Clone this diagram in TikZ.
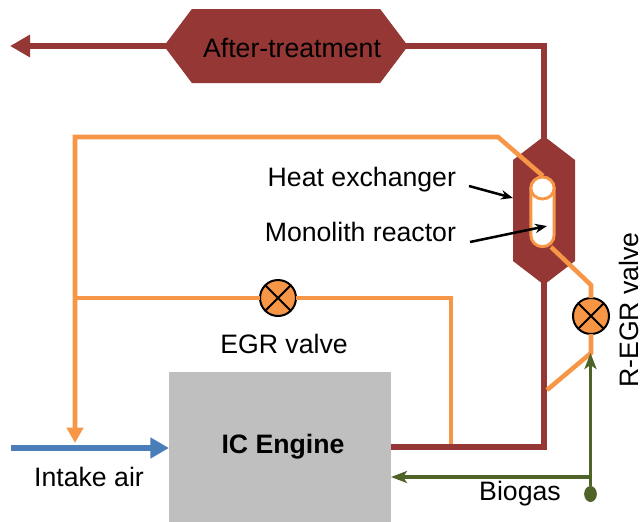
\documentclass[tikz,border=0pt]{standalone}
\usepackage{fontspec}
\setmainfont{Liberation Sans}
\usepackage{xcolor}
\usetikzlibrary{
  arrows.meta,
  shapes.geometric,
  shapes.symbols}

\definecolor{exhaust}{HTML}{953735}
\definecolor{egr}{HTML}{F79646}
\definecolor{air}{HTML}{4A7EBB}
\definecolor{biogas}{HTML}{4F6228}
\definecolor{engine}{HTML}{BFBFBF}

\tikzset{
  every node/.style={outer sep=0pt},
  label text/.style={font=\fontsize{20}{24}\selectfont,inner sep=0pt},
  exhaust line/.style={draw=exhaust,line width=5.2pt,shorten <=-3pt},
  egr line/.style={draw=egr,line width=3.4pt},
  biogas line/.style={draw=biogas,line width=2.3pt},
  hex box/.style={
    shape=signal,
    fill=exhaust,
    inner sep=0pt},
  valve/.style={
    circle,
    draw=black,
    fill=egr,
    line width=1.5pt,
    inner sep=0pt,
    minimum size=27pt,
    path picture={
      \draw[line width=1.5pt]
      (path picture bounding box.north west) -- (path picture bounding box.south east)
      (path picture bounding box.north east) -- (path picture bounding box.south west);
    }},
}

\begin{document}
\begin{tikzpicture}[x=0.75pt,y=-0.75pt]
\useasboundingbox (0,0) rectangle (644,522);

\node[fill=engine,minimum width=166.5pt,minimum height=112.5pt,inner sep=0pt] (engine) at (280,447) {};
\node[font=\fontsize{20}{24}\selectfont\bfseries,inner sep=0pt] at (283,447) {IC Engine};

\node[hex box,signal to=east and west,signal pointer angle=106,
  minimum width=183pt,minimum height=55.5pt] (aftertreat) at (286,46) {};
\node[label text] at (292,48) {After-treatment};
\node[hex box,signal to=north and south,signal pointer angle=105,
  minimum width=46.5pt,minimum height=75.75pt] (reactor) at (544,210.5) {};

% exhaust
\coordinate (outlet) at (10,46);
\coordinate (topcorner) at (544,46);
\coordinate (enginecorner) at (544,447);
\coordinate (engineout) at (391,447);
\draw[exhaust line,-{Triangle[length=15pt,width=16pt,sep=0pt]}] (aftertreat.west) -- (outlet);
\draw[exhaust line,line join=miter,shorten >=-3pt] (aftertreat.east) -- (topcorner) -- (reactor.north);
\draw[exhaust line,line join=miter] (reactor.south) -- (enginecorner) -- (engineout);

% intake
\coordinate (airin) at (11,448);
\draw[draw=air,line width=5.2pt,-{Triangle[length=14pt,width=15pt,sep=0pt]}] (airin) -- (engine.west |- airin);

% valves
\node[valve] (egrvalve) at (278,298) {};
\node[valve] (regrvalve) at (591,316) {};

% egr lines
\coordinate (loopleft) at (75,137);
\coordinate (looptop) at (498,137);
\coordinate (reactortop) at (543,176);
\coordinate (intake) at (75,443);
\coordinate (egrleft) at (75,298);
\coordinate (egrright) at (451,298);
\coordinate (egrdown) at (451,444);
\coordinate (reactorout) at (551,247);
\coordinate (regrbend) at (591,285);
\coordinate (regrjoin) at (591,353);
\coordinate (regrback) at (547,390);
\draw[egr line,line join=miter,-{Triangle[length=11.5pt,width=12pt,sep=0pt]}] (reactortop) -- (looptop) -- (loopleft)
  -- (intake);
\draw[egr line] (egrleft) -- (egrvalve);
\draw[egr line] (egrvalve) -- (egrright) -- (egrdown);
\draw[egr line] (reactorout) -- (regrbend) -- (regrvalve);
\draw[egr line] (regrvalve) -- (regrjoin) -- (regrback);

% monolith
\node[draw=egr,fill=white,line width=2.2pt,rounded corners=8.7pt,inner sep=0pt,
  minimum width=17.5pt,minimum height=52pt] (monolith) at (542.5,212) {};
\node[ellipse,draw=egr,fill=white,line width=2.2pt,inner sep=0pt,
  minimum width=17.5pt,minimum height=16.5pt] (exchanger) at (542.5,188) {};

% biogas
\node[ellipse,fill=biogas,minimum width=9.5pt,minimum height=12pt,inner sep=0pt] (source) at (590.5,494) {};
\coordinate (split) at (590.5,477);
\coordinate (regrin) at (590.5,353);
\draw[biogas line,-{Stealth[length=12pt,width=9pt,inset=3pt]}] (source) -- (regrin);
\draw[biogas line,-{Stealth[length=12pt,width=9pt,inset=3pt]}] (split) -- (engine.east |- split);

% labels
\node[label text,anchor=east] (heatlabel) at (456,180) {Heat exchanger};
\node[label text,anchor=east] (monolithlabel) at (456,232) {Monolith reactor};
\node[label text] (egrlabel) at (284,344) {EGR valve};
\node[label text] (airlabel) at (89,477) {Intake air};
\node[label text] (biogaslabel) at (520,494) {Biogas};
\node[label text,rotate=90] (regrlabel) at (629,310) {R-EGR valve};

\coordinate (heatstart) at (469,186);
\coordinate (heattip) at (513,198);
\coordinate (monolithstart) at (470,242);
\coordinate (monolithtip) at (547,226);
\draw[line width=1.9pt,-{Stealth[length=9pt,width=7pt]}] (heatstart) -- (heattip);
\draw[line width=1.9pt,-{Stealth[length=9pt,width=7pt]}] (monolithstart) -- (monolithtip);
\end{tikzpicture}
\end{document}
